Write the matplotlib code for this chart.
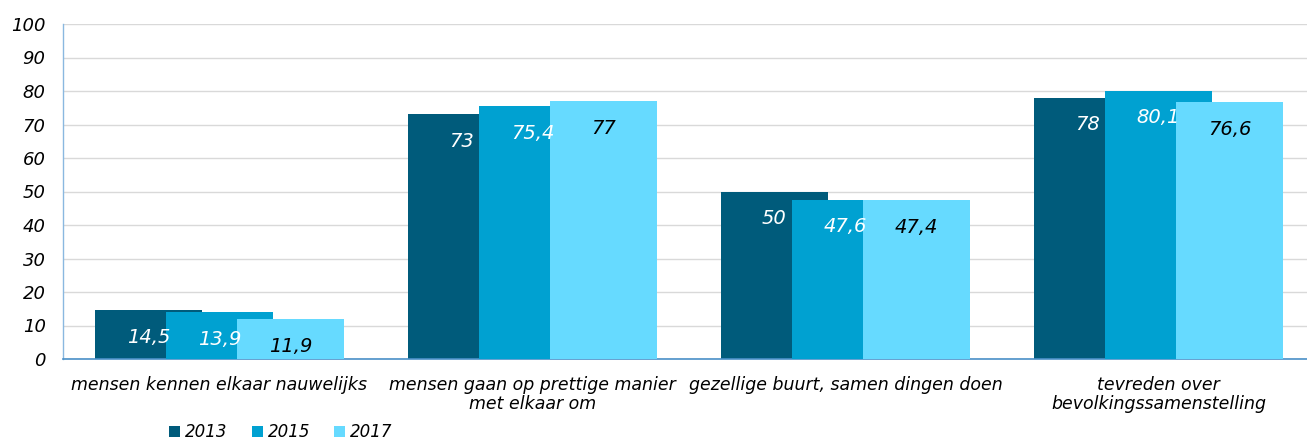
import numpy as np
import matplotlib.pyplot as plt

categories = ["mensen kennen elkaar nauwelijks",
              "mensen gaan op prettige manier\nmet elkaar om",
              "gezellige buurt, samen dingen doen",
              "tevreden over\nbevolkingssamenstelling"]
years = ["2013", "2015", "2017"]
v2013 = [14.5, 73, 50, 78]
v2015 = [13.9, 75.4, 47.6, 80.1]
v2017 = [11.9, 77, 47.4, 76.6]
labels2013 = ["14,5", "73", "50", "78"]
labels2015 = ["13,9", "75,4", "47,6", "80,1"]
labels2017 = ["11,9", "77", "47,4", "76,6"]

colors = ["#005b7b", "#00a1d1", "#66daff"]
text_colors = ["white", "white", "black"]

fig = plt.figure(figsize=(13.07, 4.42), dpi=100)
ax = fig.add_axes([63 / 1307, 83 / 442, 1252 / 1307, 335 / 442])

x = np.arange(len(categories))
offset = 0.227
width = 0.339
series = [(v2013, labels2013), (v2015, labels2015), (v2017, labels2017)]
for i, (vals, labs) in enumerate(series):
    pos = x + (i - 1) * offset
    ax.bar(pos, vals, width, color=colors[i], label=years[i], zorder=2 + i)
    for p, v, t in zip(pos, vals, labs):
        ax.annotate(t, (p, v), xytext=(0, -19.5), textcoords="offset points",
                    ha="center", va="center", fontsize=14, style="italic",
                    color=text_colors[i], zorder=10)

ax.set_xlim(-0.5, 3.5)
ax.set_ylim(0, 100)
ax.set_yticks(range(0, 101, 10))
ax.set_yticklabels([str(t) for t in range(0, 101, 10)], fontsize=13, style="italic")
ax.set_xticks(x)
ax.set_xticklabels(categories, fontsize=12.5, style="italic", va="top", linespacing=1.1)
ax.tick_params(axis="y", length=0, pad=12.5)
ax.tick_params(axis="x", length=0, pad=12)
ax.grid(axis="y", color="#d9d9d9", linewidth=1, zorder=0)
ax.set_axisbelow(True)
for s in ["top", "right"]:
    ax.spines[s].set_visible(False)
ax.spines["left"].set_color("#8ab8e0")
ax.spines["bottom"].set_color("#4a90c8")
ax.spines["left"].set_linewidth(1)
ax.spines["bottom"].set_linewidth(1.2)

ax.legend(loc="center", bbox_to_anchor=(281 / 1307, 10 / 442), bbox_transform=fig.transFigure,
          ncol=3, frameon=False, handlelength=0.65, handleheight=0.65, handletextpad=0.3,
          columnspacing=1.45, borderpad=0, prop={"size": 12, "style": "italic"})

fig.savefig("out.png", dpi=100)
